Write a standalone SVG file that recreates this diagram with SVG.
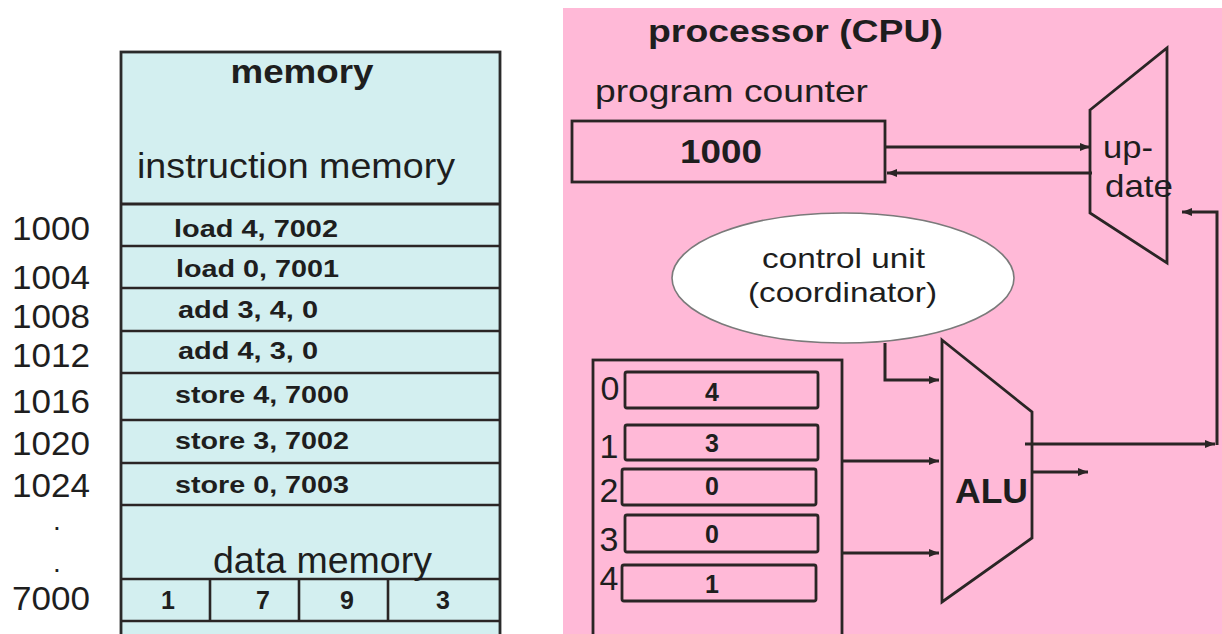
<svg xmlns="http://www.w3.org/2000/svg" width="1222" height="634" viewBox="0 0 1222 634">
<style>
.t{font-family:"Liberation Sans",Arial,sans-serif;fill:#1e1e1e}
.b{font-weight:bold}
.ln{stroke:#2a2525;stroke-width:2.6;fill:none}
.sh{stroke:#2a2525;stroke-width:2.8;fill:none}
.cn{stroke:#2a2525;stroke-width:3;fill:none}
</style>
<defs>
<marker id="ah" viewBox="0 0 10 8" refX="10" refY="4" markerWidth="10" markerHeight="8" markerUnits="userSpaceOnUse" orient="auto">
<path d="M0,0 L10,4 L0,8 z" fill="#2a2525"/>
</marker>
</defs>
<rect x="0" y="0" width="1222" height="634" fill="#ffffff"/>

<g id="address-labels" class="t" font-size="34">
<text x="12" y="240" textLength="78" lengthAdjust="spacingAndGlyphs">1000</text>
<text x="12" y="289" textLength="78" lengthAdjust="spacingAndGlyphs">1004</text>
<text x="12" y="328" textLength="78" lengthAdjust="spacingAndGlyphs">1008</text>
<text x="12" y="367" textLength="78" lengthAdjust="spacingAndGlyphs">1012</text>
<text x="12" y="413" textLength="78" lengthAdjust="spacingAndGlyphs">1016</text>
<text x="12" y="455" textLength="78" lengthAdjust="spacingAndGlyphs">1020</text>
<text x="12" y="497" textLength="78" lengthAdjust="spacingAndGlyphs">1024</text>
<text x="57" y="530" font-size="28" text-anchor="middle">.</text>
<text x="57" y="572" font-size="28" text-anchor="middle">.</text>
<text x="12" y="610" textLength="78" lengthAdjust="spacingAndGlyphs">7000</text>
</g>

<g id="memory">
<rect x="121" y="52" width="379" height="600" fill="#d3eff0" stroke="#2a2a2a" stroke-width="2.8"/>
<g class="ln">
<line x1="121" y1="204" x2="500" y2="204" stroke-width="3.2"/>
<line x1="121" y1="246" x2="500" y2="246"/>
<line x1="121" y1="288" x2="500" y2="288"/>
<line x1="121" y1="331" x2="500" y2="331"/>
<line x1="121" y1="373" x2="500" y2="373"/>
<line x1="121" y1="420" x2="500" y2="420"/>
<line x1="121" y1="463" x2="500" y2="463"/>
<line x1="121" y1="505" x2="500" y2="505"/>
<line x1="121" y1="579" x2="500" y2="579"/>
<line x1="121" y1="621" x2="500" y2="621"/>
<line x1="210" y1="579" x2="210" y2="621"/>
<line x1="299" y1="579" x2="299" y2="621"/>
<line x1="388" y1="579" x2="388" y2="621"/>
</g>
<text class="t b" x="302" y="83" font-size="34" text-anchor="middle" textLength="143" lengthAdjust="spacingAndGlyphs">memory</text>
<text class="t" x="137" y="178" font-size="35" textLength="318" lengthAdjust="spacingAndGlyphs">instruction memory</text>
<g class="t b" font-size="24">
<text x="174" y="237" textLength="164" lengthAdjust="spacingAndGlyphs">load 4, 7002</text>
<text x="176" y="277" textLength="163" lengthAdjust="spacingAndGlyphs">load 0, 7001</text>
<text x="178" y="318" textLength="140" lengthAdjust="spacingAndGlyphs">add 3, 4, 0</text>
<text x="178" y="359" textLength="140" lengthAdjust="spacingAndGlyphs">add 4, 3, 0</text>
<text x="175" y="403" textLength="174" lengthAdjust="spacingAndGlyphs">store 4, 7000</text>
<text x="175" y="449" textLength="174" lengthAdjust="spacingAndGlyphs">store 3, 7002</text>
<text x="175" y="493" textLength="174" lengthAdjust="spacingAndGlyphs">store 0, 7003</text>
</g>
<text class="t" x="213" y="573" font-size="36" textLength="219" lengthAdjust="spacingAndGlyphs">data memory</text>
<g class="t b" font-size="25" text-anchor="middle">
<text x="168" y="609">1</text>
<text x="263" y="609">7</text>
<text x="347" y="609">9</text>
<text x="443" y="609">3</text>
</g>
</g>

<g id="processor">
<rect x="563" y="8" width="659" height="626" fill="#ffb9d7"/>
<text class="t b" x="648" y="42" font-size="32" textLength="295" lengthAdjust="spacingAndGlyphs">processor (CPU)</text>
</g>

<g id="program-counter">
<text class="t" x="595" y="102" font-size="32" textLength="273" lengthAdjust="spacingAndGlyphs">program counter</text>
<rect x="572" y="121" width="313" height="61" class="sh"/>
<text class="t b" x="680" y="163" font-size="34" textLength="82" lengthAdjust="spacingAndGlyphs">1000</text>
</g>

<g id="update">
<polygon points="1090,110 1167,48 1167,263 1090,213" class="sh"/>
<text class="t" x="1103" y="158" font-size="32" textLength="50" lengthAdjust="spacingAndGlyphs">up-</text>
<text class="t" x="1105" y="197" font-size="32" textLength="68" lengthAdjust="spacingAndGlyphs">date</text>
</g>

<g id="control-unit">
<ellipse cx="843" cy="278" rx="171" ry="65" fill="#ffffff" stroke="#7a7a7a" stroke-width="1.6"/>
<text class="t" x="762" y="268" font-size="28" textLength="163" lengthAdjust="spacingAndGlyphs">control unit</text>
<text class="t" x="748" y="302" font-size="28" textLength="189" lengthAdjust="spacingAndGlyphs">(coordinator)</text>
</g>

<g id="registers">
<rect x="593" y="360" width="249" height="290" class="sh"/>
<g class="sh">
<rect x="625" y="372" width="193" height="36" rx="2"/>
<rect x="625" y="425" width="193" height="35" rx="2"/>
<rect x="622" y="469" width="194" height="36" rx="2"/>
<rect x="625" y="515" width="193" height="37" rx="2"/>
<rect x="622" y="565" width="194" height="36" rx="2"/>
</g>
<g class="t" font-size="34" text-anchor="middle">
<text x="610" y="400">0</text>
<text x="609" y="458">1</text>
<text x="609" y="502">2</text>
<text x="609" y="551">3</text>
<text x="609" y="590">4</text>
</g>
<g class="t b" font-size="25" text-anchor="middle">
<text x="712" y="401">4</text>
<text x="712" y="452">3</text>
<text x="712" y="495">0</text>
<text x="712" y="543">0</text>
<text x="712" y="593">1</text>
</g>
</g>

<g id="alu">
<polygon points="942,340 1032,412 1032,538 942,602" class="sh"/>
<text class="t b" x="955" y="503" font-size="35" textLength="73" lengthAdjust="spacingAndGlyphs">ALU</text>
</g>

<g id="connectors" class="cn">
<line x1="885" y1="147" x2="1090" y2="147" marker-end="url(#ah)"/>
<line x1="1092" y1="173" x2="887" y2="173" marker-end="url(#ah)"/>
<polyline points="885,343 885,380 939,380" marker-end="url(#ah)"/>
<line x1="842" y1="461" x2="939" y2="461" marker-end="url(#ah)"/>
<line x1="842" y1="553" x2="939" y2="553" marker-end="url(#ah)"/>
<line x1="1025" y1="444" x2="1215" y2="444" marker-end="url(#ah)"/>
<polyline points="1217,445 1217,212 1182,212" marker-end="url(#ah)"/>
<line x1="1032" y1="472" x2="1088" y2="472" marker-end="url(#ah)"/>
</g>
</svg>
